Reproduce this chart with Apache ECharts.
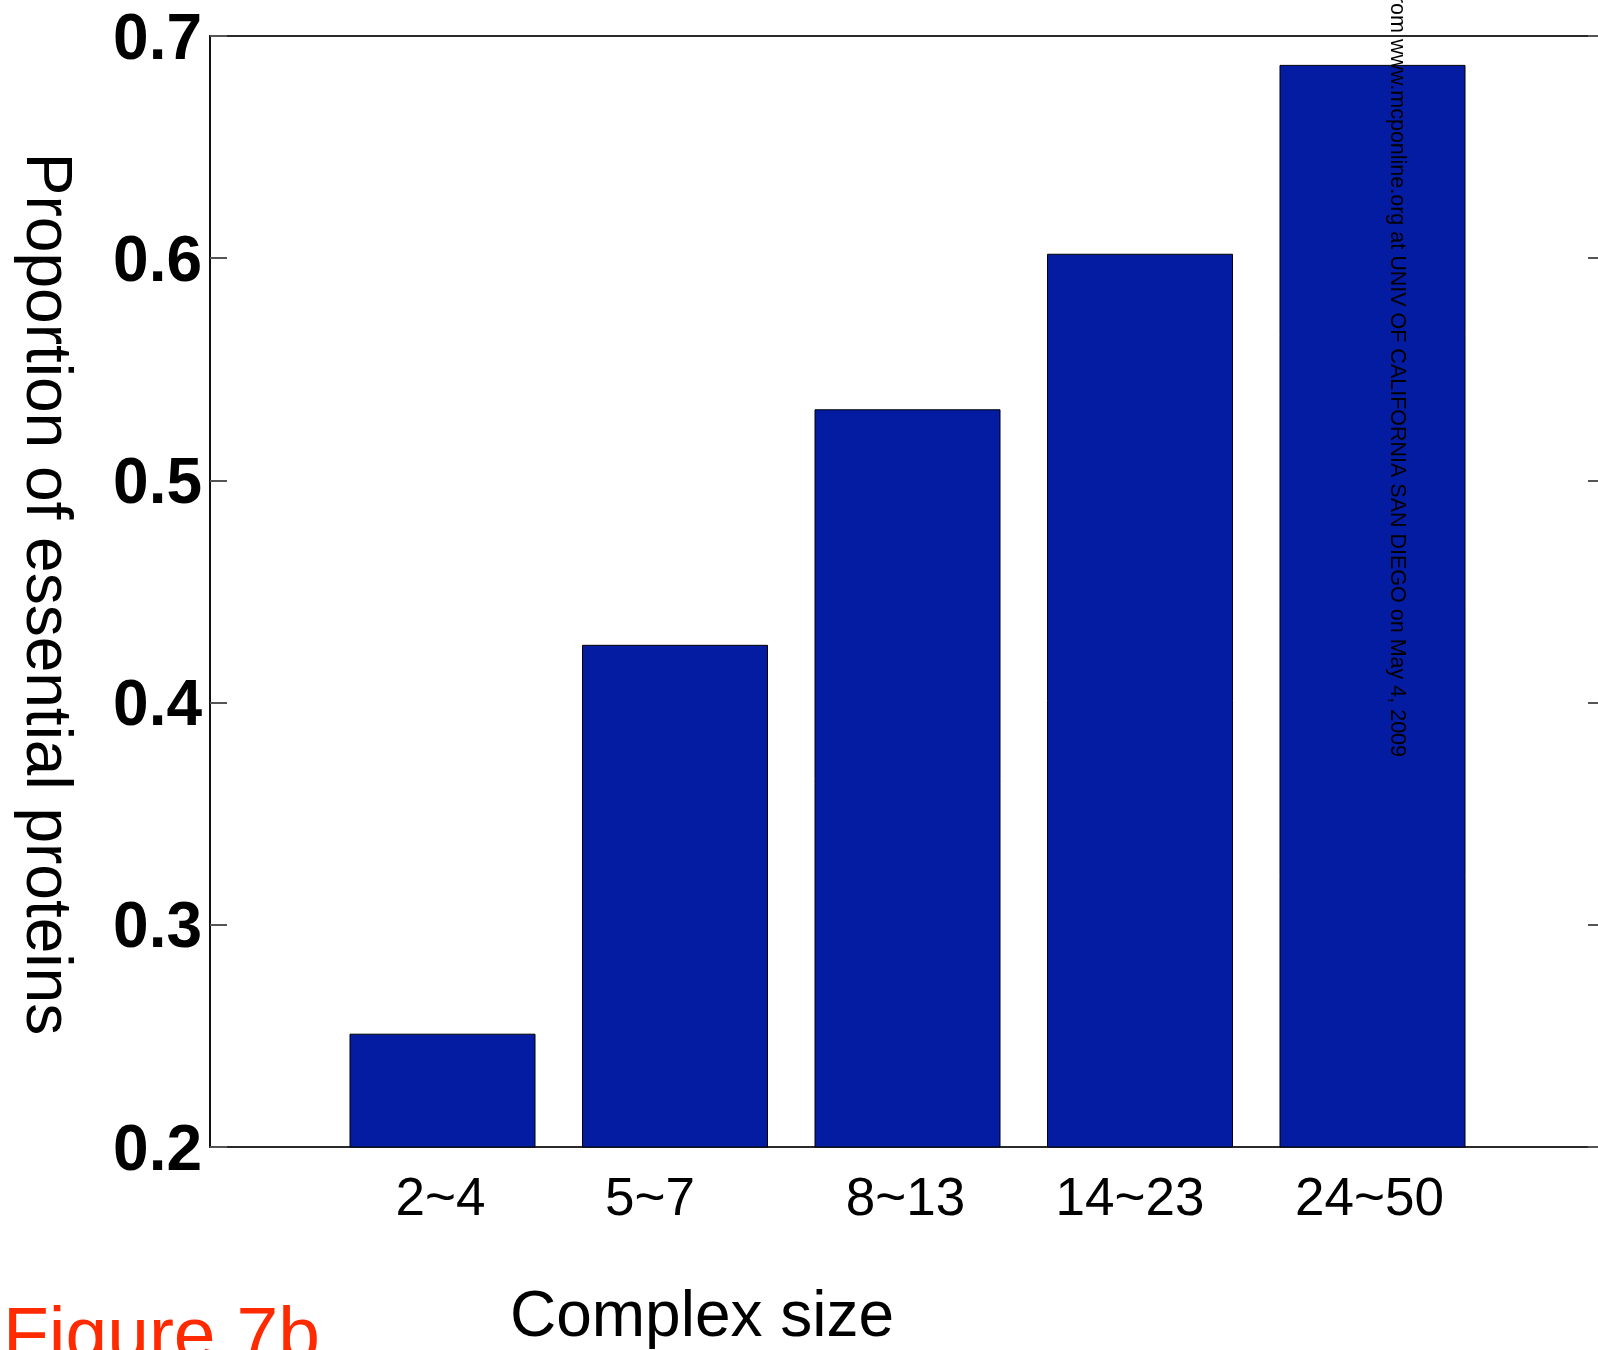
<!DOCTYPE html>
<html>
<head>
<meta charset="utf-8">
<script src="https://cdn.jsdelivr.net/npm/echarts@6/dist/echarts.min.js"></script>
<style>
  html, body { margin: 0; padding: 0; background: #fff; }
  #chart { width: 1598px; height: 1350px; }
</style>
</head>
<body>
<div id="chart"></div>
<script>
// ---- data ----
const categories = ['2~4', '5~7', '8~13', '14~23', '24~50'];
const proportions = [0.251, 0.426, 0.532, 0.602, 0.687];
const yTicks = [0.2, 0.3, 0.4, 0.5, 0.6, 0.7];
const yTitle = 'Proportion of essential proteins';
const xTitle = 'Complex size';
const figureLabel = 'Figure 7b';
const watermark = 'Downloaded from www.mcponline.org at UNIV OF CALIFORNIA SAN DIEGO on May 4, 2009';

// pad the category axis so that slots run 0..6 (bars at 1..5)
const axisCats = [''].concat(categories, ['']);
const axisVals = [null].concat(proportions, [null]);

// small horizontal nudges of individual tick labels (style only)
const labelShift = [0, -2, -25, -2, -10, -3, 0];
const FONT = 'Liberation Sans, Arial, Helvetica, sans-serif';
const rich = {};
labelShift.forEach((s, i) => {
  rich['c' + i] = {
    fontFamily: FONT,
    fontSize: 53,
    color: '#000',
    padding: s < 0 ? [0, -2 * s, 0, 0] : [0, 0, 0, 2 * s]
  };
});

const chart = echarts.init(document.getElementById('chart'), null, { renderer: 'canvas' });

chart.setOption({
  animation: false,
  backgroundColor: '#ffffff',
  grid: {
    left: 210, top: 36, width: 1395, height: 1111,
    outerBoundsMode: 'none',
    containLabel: false,
    show: true, borderColor: '#2a2a2a', borderWidth: 2, backgroundColor: 'transparent'
  },
  xAxis: {
    type: 'category',
    data: axisCats,
    boundaryGap: false,
    axisLine: { show: true, lineStyle: { color: '#2a2a2a', width: 2 } },
    axisTick: { show: false },
    splitLine: { show: false },
    axisLabel: {
      show: true,
      interval: 0,
      margin: 27,
      formatter: (v, i) => v === '' ? '' : '{c' + i + '|' + v + '}',
      rich: rich
    }
  },
  yAxis: [
    {
      type: 'value',
      min: yTicks[0],
      max: yTicks[yTicks.length - 1],
      interval: 0.1,
      position: 'left',
      axisLine: { show: true, lineStyle: { color: '#111', width: 2 } },
      axisTick: { show: true, inside: true, length: 17, lineStyle: { color: '#555', width: 2 } },
      splitLine: { show: false },
      axisLabel: {
        margin: 8,
        formatter: v => '{v|' + v.toFixed(1) + '}',
        rich: {
          v: {
            fontFamily: FONT, fontWeight: 'bold', fontSize: 64, color: '#000',
            padding: [10, 0, 0, 0]
          }
        }
      }
    },
    {
      type: 'value',
      min: yTicks[0],
      max: yTicks[yTicks.length - 1],
      interval: 0.1,
      position: 'right',
      axisLine: { show: true, lineStyle: { color: '#2a2a2a', width: 2 } },
      axisTick: { show: true, inside: true, length: 17, lineStyle: { color: '#555', width: 2 } },
      splitLine: { show: false },
      axisLabel: { show: false }
    }
  ],
  series: [{
    type: 'bar',
    data: axisVals,
    barWidth: '80%',
    itemStyle: { color: '#031ca1', borderColor: '#000', borderWidth: 1 }
  }],
  graphic: [
    {
      type: 'text',
      x: 45, y: 594,
      rotation: -Math.PI / 2,
      style: {
        text: yTitle, fontFamily: FONT, fontSize: 64, fill: '#000',
        textAlign: 'center', textVerticalAlign: 'middle'
      }
    },
    {
      type: 'text',
      x: 702, y: 1318,
      style: {
        text: xTitle, fontFamily: FONT, fontSize: 64, fill: '#000',
        textAlign: 'center', textVerticalAlign: 'middle'
      }
    },
    {
      type: 'text',
      x: 3, y: 1338,
      style: {
        text: figureLabel, fontFamily: FONT, fontSize: 75, fill: '#ff2a00',
        textAlign: 'left', textVerticalAlign: 'middle'
      }
    },
    {
      type: 'text',
      x: 1397, y: 757,
      rotation: -Math.PI / 2,
      z: 100,
      style: {
        text: watermark, fontFamily: FONT, fontSize: 21.5, fill: '#000',
        textAlign: 'right', textVerticalAlign: 'middle'
      }
    }
  ]
});
</script>
</body>
</html>
